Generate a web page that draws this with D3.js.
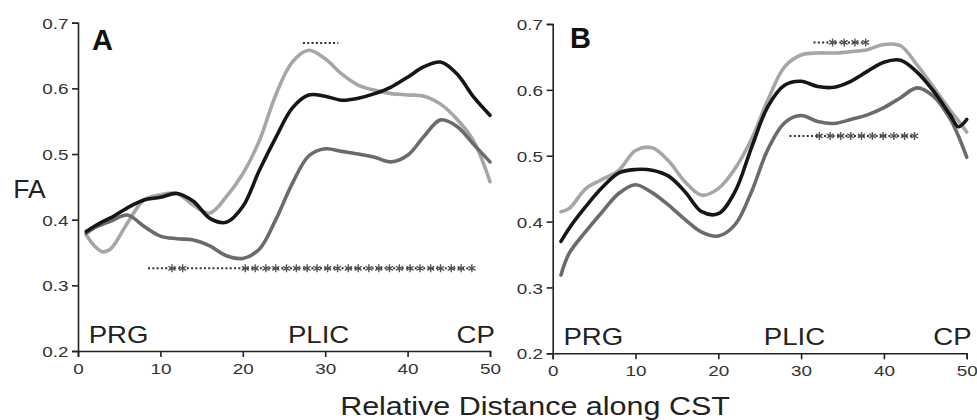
<!DOCTYPE html>
<html>
<head>
<meta charset="utf-8">
<script src="https://cdn.jsdelivr.net/npm/d3@7"></script>
<style>
  html, body { margin: 0; padding: 0; background: #fff; }
  svg { display: block; font-family: "Liberation Sans", Arial, Helvetica, sans-serif; }
</style>
</head>
<body>
<svg id="chart" width="977" height="420"></svg>
<script>
// ---------------- DATA ----------------
const xTicks = [0, 10, 20, 30, 40, 50];
const yTicks = [0.2, 0.3, 0.4, 0.5, 0.6, 0.7];
const regionLabels = ["PRG", "PLIC", "CP"];
const panelLabels = ["A", "B"];
const yTitle = "FA";
const xTitle = "Relative Distance along CST";

// Panel A
const xA = [1, 2, 3, 4, 6, 8, 10, 12, 14, 16, 18, 20, 22, 24, 26, 28, 30, 32, 34, 36, 38, 40, 42, 44, 46, 48, 50];
const blackA = [0.382, 0.39, 0.397, 0.403, 0.418, 0.43, 0.434, 0.44, 0.428, 0.402, 0.396, 0.42, 0.475, 0.525, 0.57, 0.59, 0.588, 0.582, 0.585, 0.592, 0.602, 0.617, 0.633, 0.64, 0.622, 0.587, 0.559];
const lightA = [0.377, 0.36, 0.351, 0.356, 0.395, 0.43, 0.438, 0.44, 0.422, 0.41, 0.435, 0.47, 0.52, 0.59, 0.64, 0.658, 0.645, 0.622, 0.605, 0.597, 0.592, 0.59, 0.588, 0.576, 0.553, 0.52, 0.458];
const midA = [0.379, 0.388, 0.393, 0.398, 0.407, 0.39, 0.375, 0.371, 0.369, 0.36, 0.345, 0.341, 0.355, 0.40, 0.455, 0.497, 0.508, 0.504, 0.5, 0.495, 0.488, 0.498, 0.527, 0.552, 0.542, 0.515, 0.488];

// Panel B
const xB = [1, 2, 4, 6, 8, 10, 12, 14, 16, 18, 20, 22, 24, 26, 28, 30, 32, 34, 36, 38, 40, 42, 44, 46, 48, 49, 50];
const blackB = [0.37, 0.39, 0.423, 0.452, 0.474, 0.479, 0.478, 0.469, 0.445, 0.415, 0.412, 0.445, 0.512, 0.575, 0.607, 0.613, 0.605, 0.604, 0.613, 0.628, 0.642, 0.645, 0.627, 0.598, 0.562, 0.544, 0.555];
const lightB = [0.415, 0.42, 0.45, 0.464, 0.478, 0.508, 0.512, 0.492, 0.46, 0.44, 0.45, 0.48, 0.525, 0.585, 0.635, 0.653, 0.656, 0.656, 0.658, 0.661, 0.669, 0.667, 0.638, 0.604, 0.569, 0.553, 0.536];
const midB = [0.319, 0.352, 0.385, 0.415, 0.443, 0.456, 0.444, 0.425, 0.403, 0.384, 0.378, 0.395, 0.445, 0.51, 0.55, 0.561, 0.552, 0.549, 0.555, 0.562, 0.573, 0.588, 0.603, 0.59, 0.556, 0.53, 0.498];

// Significance rows: FA level, dotted extent, asterisk positions
const sigRowA1Y = 0.326, sigRowA1From = 8.5, sigRowA1To = 47.8;
const sigRowA1Stars = [11.4, 12.7, 20.3, 21.5, 22.8, 24.0, 25.3, 26.5, 27.8, 29.0, 30.3, 31.5, 32.8, 34.0, 35.3, 36.5, 37.8, 39.0, 40.3, 41.5, 42.8, 44.0, 45.3, 46.5, 47.8];
const sigRowA2Y = 0.669, sigRowA2From = 27.3, sigRowA2To = 31.6;
const sigRowA2Stars = [];
const sigRowB1Y = 0.672, sigRowB1From = 31.5, sigRowB1To = 37.8;
const sigRowB1Stars = [33.8, 35.2, 36.5, 37.8];
const sigRowB2Y = 0.53, sigRowB2From = 28.6, sigRowB2To = 43.7;
const sigRowB2Stars = [32.2, 33.5, 34.8, 36.0, 37.3, 38.6, 39.9, 41.2, 42.5, 43.7];

// ---------------- DRAW ----------------
const svg = d3.select("#chart");
const colors = { black: "#161616", light: "#a6a6a6", mid: "#6b6b6b" };

const panels = [
  { label: panelLabels[0], xr: [78, 490], yr: [351, 22.7], labelPos: [92, 50],
    x: xA, series: [["light", lightA], ["mid", midA], ["black", blackA]],
    sig: [[sigRowA1Y, sigRowA1From, sigRowA1To, sigRowA1Stars], [sigRowA2Y, sigRowA2From, sigRowA2To, sigRowA2Stars]] },
  { label: panelLabels[1], xr: [552.7, 966.7], yr: [353.3, 24], labelPos: [570, 48],
    x: xB, series: [["light", lightB], ["mid", midB], ["black", blackB]],
    sig: [[sigRowB1Y, sigRowB1From, sigRowB1To, sigRowB1Stars], [sigRowB2Y, sigRowB2From, sigRowB2To, sigRowB2Stars]] }
];

function stretchedText(g, txt, x, y, size, sx, anchor, weight) {
  return g.append("text")
    .attr("transform", `translate(${x},${y}) scale(${sx},1)`)
    .attr("text-anchor", anchor || "start")
    .attr("font-size", size)
    .attr("font-weight", weight || "normal")
    .attr("fill", "#222")
    .text(txt);
}

panels.forEach(p => {
  const x = d3.scaleLinear().domain([0, 50]).range(p.xr);
  const y = d3.scaleLinear().domain([0.2, 0.7]).range(p.yr);
  const g = svg.append("g");

  // axes
  const yAxis = g.append("g").attr("transform", `translate(${p.xr[0]},0)`)
    .call(d3.axisLeft(y).tickValues(yTicks).tickFormat(d3.format(".1f")).tickSizeOuter(0).tickSize(6));
  const xAxis = g.append("g").attr("transform", `translate(0,${p.yr[0]})`)
    .call(d3.axisBottom(x).tickValues(xTicks).tickFormat(d3.format("d")).tickSizeOuter(0).tickSize(6));
  [yAxis, xAxis].forEach(a => {
    a.select(".domain").attr("stroke", "#222").attr("stroke-width", 1.6);
    a.selectAll(".tick line").attr("stroke", "#222").attr("stroke-width", 1.6);
    a.selectAll(".tick text").attr("font-size", 15.5).attr("fill", "#333")
      .attr("font-family", "'Liberation Sans', Arial, sans-serif");
  });
  yAxis.selectAll(".tick text").attr("x", -9.6 / 1.22).attr("dy", "0.36em")
    .attr("transform", "scale(1.22,1)");
  xAxis.selectAll(".tick text").attr("y", 12).attr("transform", "scale(1.22,1)");

  // region labels
  const by = y(0.212);
  stretchedText(g, regionLabels[0], x(1.3), by, 24, 1.15, "start");
  stretchedText(g, regionLabels[1], x(29.2), by, 24, 1.15, "middle");
  stretchedText(g, regionLabels[2], x(50.6), by, 24, 1.15, "end");

  // panel letter
  stretchedText(g, p.label, p.labelPos[0], p.labelPos[1], 29, 1.0, "start", "bold").attr("fill", "#111");

  // significance rows
  p.sig.forEach(([lv, from, to, stars]) => {
    g.append("line")
      .attr("x1", x(from)).attr("x2", x(to))
      .attr("y1", y(lv)).attr("y2", y(lv))
      .attr("stroke", "#333").attr("stroke-width", 2)
      .attr("stroke-dasharray", "2,2.3");
    const sym = d3.symbolAsterisk ? d3.symbol(d3.symbolAsterisk, 46) : d3.symbol(d3.symbolCross, 30);
    g.selectAll(null).data(stars).enter().append("path")
      .attr("d", sym)
      .attr("transform", d => `translate(${x(d)},${y(lv)})`)
      .attr("fill", "none").attr("stroke", "#555").attr("stroke-width", 1.4);
  });

  // lines
  const line = d3.line()
    .x((d, i) => x(p.x[i]))
    .y(d => y(d))
    .curve(d3.curveCatmullRom.alpha(0.5));
  p.series.forEach(([c, vals]) => {
    g.append("path").datum(vals)
      .attr("d", line)
      .attr("fill", "none")
      .attr("stroke", colors[c])
      .attr("stroke-width", 3.6)
      .attr("stroke-linejoin", "round")
      .attr("stroke-linecap", "round");
  });
});

// titles
stretchedText(svg, yTitle, 13.3, 198.3, 25, 1.06, "start");
stretchedText(svg, xTitle, 535, 415, 25, 1.22, "middle");
</script>
</body>
</html>
